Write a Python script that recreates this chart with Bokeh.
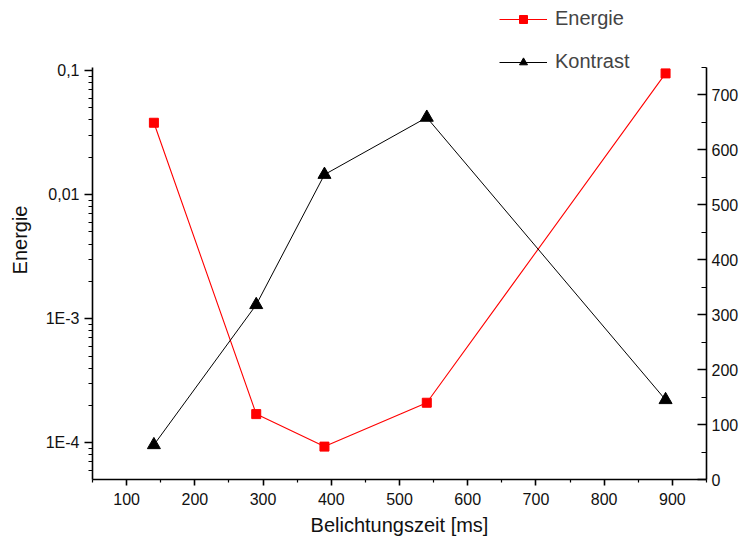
import math
from bokeh.plotting import figure
from bokeh.models import (Range1d, LinearAxis, LinearScale, FixedTicker, CustomJSTickFormatter,
                          Legend, LegendItem)
from bokeh.embed import file_html
from bokeh.resources import INLINE

# ---- data ----
zeit = [140, 290, 390, 540, 890]
energie = [0.038, 1.7e-4, 9.3e-5, 2.1e-4, 0.095]
kontrast = [63, 318, 555, 659, 145]
x_ticks = [100, 200, 300, 400, 500, 600, 700, 800, 900]
x_minor = [50, 150, 250, 350, 450, 550, 650, 750, 850, 950]
log_ticks = [1e-4, 1e-3, 1e-2, 1e-1]
log_labels = ["1E-4", "1E-3", "0,01", "0,1"]
log_minor = [m * d for d in [1e-5, 1e-4, 1e-3, 1e-2] for m in range(2, 10)] + [0.1]
r_ticks = [0, 100, 200, 300, 400, 500, 600, 700]
r_minor = [50, 150, 250, 350, 450, 550, 650, 750]

# axis extents (data units) and layout (pixels)
E_LO, E_HI = 5.05e-5, 0.106
K_LO, K_HI = 0, 750
W, H = 746, 542
AX_TOP, AX_BOTTOM = 67, 479      # axis line ends, px from top
# the frame extends to the top edge so the legend is not clipped
span = AX_BOTTOM - AX_TOP
dec = math.log10(E_HI) - math.log10(E_LO)
e_top = 10 ** (math.log10(E_LO) + dec * AX_BOTTOM / span)
k_top = K_LO + (K_HI - K_LO) * AX_BOTTOM / span

FONT = "Liberation Sans"

p = figure(width=W, height=H, output_backend="svg", toolbar_location=None,
           x_range=Range1d(50, 950), y_range=Range1d(E_LO, e_top),
           y_axis_type="log", min_border_left=92, min_border_right=40,
           min_border_top=0, min_border_bottom=H - AX_BOTTOM)
p.outline_line_color = None
p.grid.visible = False
p.background_fill_color = "white"
p.border_fill_color = "white"
p.extra_y_ranges = {"k": Range1d(K_LO, k_top)}
p.extra_y_scales = {"k": LinearScale()}

def style(ax, tick_in=0, tick_out=8):
    ax.axis_line_width = 1.6
    ax.axis_line_color = "black"
    ax.major_tick_line_width = 1.6
    ax.minor_tick_line_width = 1.2
    ax.major_tick_in = tick_in
    ax.major_tick_out = tick_out
    ax.minor_tick_in = tick_in // 2
    ax.minor_tick_out = tick_out // 2
    ax.major_label_text_font = FONT
    ax.major_label_text_font_size = "16px"
    ax.major_label_text_color = "#111111"
    ax.axis_label_text_font = FONT
    ax.axis_label_text_font_size = "20px"
    ax.axis_label_text_font_style = "normal"
    ax.axis_label_text_color = "#111111"

xa = p.xaxis[0]
xa.ticker = FixedTicker(ticks=x_ticks, minor_ticks=x_minor)
xa.axis_label = "Belichtungszeit [ms]"
style(xa, 0, 6)
xa.major_label_standoff = 7
xa.axis_label_standoff = 6

ya = p.yaxis[0]
ya.ticker = FixedTicker(ticks=log_ticks, minor_ticks=log_minor)
ya.formatter = CustomJSTickFormatter(args=dict(labels=log_labels),
    code="const i = Math.round(Math.log10(tick)) + 4; return labels[i];")
ya.axis_label = "Energie"
ya.bounds = (E_LO, E_HI)
style(ya, 0, 8)
ya.major_label_standoff = 5
ya.axis_label_standoff = 12

ra = LinearAxis(y_range_name="k", ticker=FixedTicker(ticks=r_ticks, minor_ticks=r_minor))
ra.bounds = (K_LO, K_HI)
style(ra, 9, 0)
ra.minor_tick_in = 5
ra.major_label_standoff = 5
p.add_layout(ra, "right")

r_e = p.line(zeit, energie, line_color="red", line_width=1.1)
s_e = p.scatter(zeit, energie, marker="square", size=9, fill_color="red", line_color="red")
r_k = p.line(zeit, kontrast, line_color="black", line_width=1, y_range_name="k")
s_k = p.scatter(zeit, kontrast, marker="triangle", size=13, fill_color="black",
                line_color="black", y_range_name="k")

legend = Legend(items=[LegendItem(label="Energie", renderers=[r_e, s_e]),
                       LegendItem(label="Kontrast", renderers=[r_k, s_k])],
                location=(407, 406), orientation="vertical",
                glyph_width=48, glyph_height=20, label_height=20, spacing=20,
                padding=0, margin=0,
                label_text_font=FONT, label_text_font_size="20px",
                label_standoff=8, border_line_color=None,
                background_fill_alpha=0)
p.add_layout(legend, "center")

open("out.html", "w").write(file_html(p, INLINE))
